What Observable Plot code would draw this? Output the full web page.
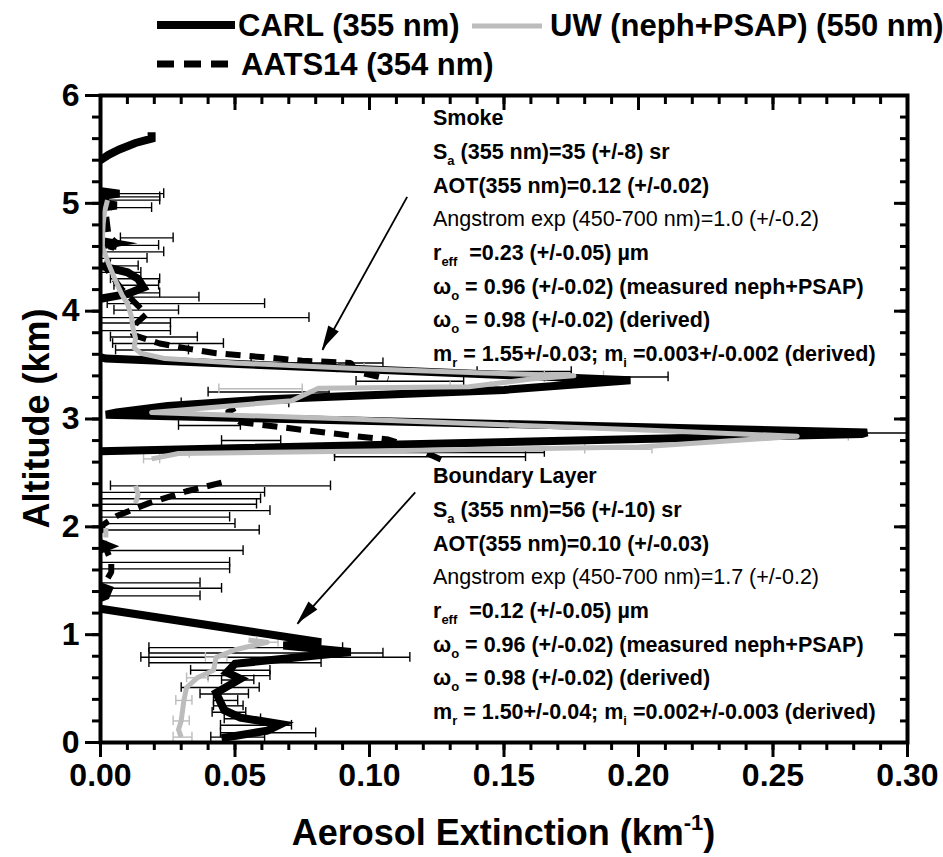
<!DOCTYPE html>
<html><head><meta charset="utf-8">
<script src="https://cdn.jsdelivr.net/npm/d3@7"></script>
<script src="https://cdn.jsdelivr.net/npm/@observablehq/plot@0.6"></script>
<style>
body{margin:0;background:#fff;}
#chart{width:943px;height:857px;}
</style></head><body><div id="chart"></div>
<script>
// ---------- data (altitude km, extinction km^-1); null breaks a line ----------
const carlAlt = [5.66,5.60,5.56,5.50,5.45,5.40,5.35,5.20,5.12,5.09,5.06,5.00,4.98,4.95,4.80,4.66,4.63,4.60,4.48,4.42,4.36,4.30,4.22,4.16,4.12,4.08,3.80,3.60,3.56,3.36,3.27,3.22,3.18,3.12,3.06,3.04,2.875,2.86,2.70,2.65,2.30,2.00,1.86,1.82,1.78,1.50,1.42,1.36,1.30,1.24,0.93,0.90,0.84,0.73,0.65,0.59,0.46,0.30,0.23,0.17,0.11,0.04];
const carlExt = [0.019,0.019,0.013,0.007,0.003,0.000,-0.006,-0.008,-0.002,0.007,-0.002,0.001,0.006,-0.003,-0.008,-0.002,0.005,-0.002,-0.006,0.000,0.010,0.014,0.016,0.010,0.001,-0.006,-0.010,-0.004,0.002,0.197,0.150,0.100,0.060,0.025,0.006,0.002,0.285,0.283,0.000,-0.008,-0.010,-0.006,-0.001,0.003,-0.001,-0.006,0.003,0.002,-0.004,0.000,0.082,0.068,0.093,0.050,0.047,0.052,0.043,0.046,0.052,0.067,0.062,0.045];

const uwAlt = [5.03,4.92,4.81,4.70,4.60,4.44,4.35,4.26,4.15,4.07,3.95,3.85,3.75,3.66,3.61,3.56,3.52,3.47,3.43,3.40,3.37,3.30,3.285,3.17,3.06,3.00,2.90,2.84,2.74,2.70,2.68,2.63,null,2.38,2.30,2.22,null,1.99,1.90,null,0.95,0.93,0.86,0.79,0.67,0.60,0.51,0.39,0.20,0.12,0.05];
const uwExt = [0.0026,0.0015,0.001,0.0008,0.0007,0.003,0.0045,0.006,0.008,0.010,0.0115,0.012,0.013,0.0125,0.015,0.024,0.050,0.093,0.140,0.176,0.160,0.137,0.081,0.071,0.019,0.093,0.200,0.259,0.200,0.093,0.029,0.019,null,0.013,0.014,0.013,null,0.002,0.002,null,0.055,0.062,0.050,0.043,0.042,0.036,0.032,0.031,0.030,0.029,0.030];

const aatsAlt = [5.05,4.98,4.90,4.70,4.63,4.58,4.40,4.20,4.05,3.97,3.88,3.78,3.70,3.65,3.61,3.57,3.54,3.52,3.44,3.37,null,3.10,3.06,2.97,2.90,2.84,2.81,2.72,2.62,null,2.41,2.33,2.22,2.10,2.02,1.95,1.80,1.68,1.58,1.45,1.38];
const aatsExt = [0.001,0.004,0.002,0.003,0.006,0.004,0.002,0.008,0.014,0.017,0.013,0.012,0.022,0.033,0.043,0.062,0.075,0.093,0.095,0.107,null,0.050,0.047,0.052,0.075,0.095,0.107,0.118,0.127,null,0.045,0.032,0.018,0.006,0.001,0.000,0.002,0.004,0.004,0.001,0.000];

// CARL error bars
const errAlt = [5.09,5.06,5.03,4.96,4.68,4.61,4.55,4.49,4.42,4.36,4.30,4.24,4.17,4.13,4.07,4.01,3.94,3.89,3.82,3.76,3.70,3.64,3.52,3.44,3.39,3.35,3.25,3.15,2.94,2.87,2.80,2.69,2.65,2.38,2.32,2.26,2.21,2.15,2.09,2.03,1.97,1.78,1.67,1.61,1.48,1.43,1.36,0.88,0.83,0.79,0.74,0.67,0.62,0.58,0.51,0.45,0.39,0.34,0.28,0.22,0.16,0.09,0.05];
const errLo  = [0,0,0,0,0.0074,0.0056,0,0,0,0,0.0037,0.005,0.0085,0,0.0025,0.005,0,0,0,0.0037,0.0045,0.0056,0.056,0.140,0.165,0.095,0.040,0.030,0.029,0.250,0.045,0.087,0.087,0.0037,0,0,0,0,0,0,0,0,0,0,0,0,0,0.018,0.018,0.015,0.018,0.0335,0.040,0.045,0.030,0.037,0.042,0.042,0.0415,0.046,0.0446,0.0446,0.041];
const errHi  = [0.0235,0.022,0.022,0.019,0.027,0.0216,0.0235,0.0173,0.014,0.015,0.022,0.0216,0.022,0.0366,0.061,0.029,0.0775,0.026,0.026,0.036,0.0457,0.0327,0.105,0.175,0.211,0.135,0.085,0.070,0.052,0.300,0.067,0.165,0.158,0.0855,0.061,0.0595,0.058,0.063,0.048,0.050,0.059,0.053,0.048,0.048,0.037,0.045,0.037,0.090,0.105,0.115,0.082,0.063,0.063,0.057,0.059,0.055,0.051,0.053,0.054,0.0595,0.071,0.080,0.061];

// UW error bars
const uwErrAlt = [3.47,3.40,3.30,3.28,3.06,2.84,2.72,2.68,2.63,0.93,0.79,0.60,0.39,0.20,0.05];
const uwErrLo  = [0.088,0.165,0.130,0.044,0.015,0.240,0.180,0.025,0.016,0.058,0.039,0.032,0.028,0.027,0.027];
const uwErrHi  = [0.098,0.187,0.145,0.075,0.023,0.278,0.205,0.033,0.022,0.066,0.047,0.040,0.034,0.033,0.034];

// annotation arrows [x1,y1] -> [x2,y2] in data units
const arrowX1 = [0.114, 0.117], arrowY1 = [5.06, 2.32];
const arrowX2 = [0.0825, 0.0732], arrowY2 = [3.64, 1.10];

const xMajor = [0, 0.05, 0.10, 0.15, 0.20, 0.25, 0.30];
const xMinor = d3.range(0, 31).map(i => i / 100);
const yMajor = [0, 1, 2, 3, 4, 5, 6];
const yMinor = d3.range(0, 31).map(i => i / 5);

const smokeLines = [
  [["Smoke"]],
  [["S"],["a","sub"],[" (355 nm)=35 (+/-8) sr"]],
  [["AOT(355 nm)=0.12 (+/-0.02)"]],
  [["Angstrom exp (450-700 nm)=1.0 (+/-0.2)","normal"]],
  [["r"],["eff","sub"],["  =0.23 (+/-0.05) \u00b5m"]],
  [["\u03c9"],["o","sub"],[" = 0.96 (+/-0.02) (measured neph+PSAP)"]],
  [["\u03c9"],["o","sub"],[" = 0.98 (+/-0.02) (derived)"]],
  [["m"],["r","sub"],[" = 1.55+/-0.03; m"],["i","sub"],[" =0.003+/-0.002 (derived)"]]
];
const blLines = [
  [["Boundary Layer"]],
  [["S"],["a","sub"],[" (355 nm)=56 (+/-10) sr"]],
  [["AOT(355 nm)=0.10 (+/-0.03)"]],
  [["Angstrom exp (450-700 nm)=1.7 (+/-0.2)","normal"]],
  [["r"],["eff","sub"],["  =0.12 (+/-0.05) \u00b5m"]],
  [["\u03c9"],["o","sub"],[" = 0.96 (+/-0.02) (measured neph+PSAP)"]],
  [["\u03c9"],["o","sub"],[" = 0.98 (+/-0.02) (derived)"]],
  [["m"],["r","sub"],[" = 1.50+/-0.04; m"],["i","sub"],[" =0.002+/-0.003 (derived)"]]
];

// ---------- tables ----------
const mk = (alt, ext) => alt.map((a, i) => ({y: a, x: ext[i]}));
const carl = mk(carlAlt, carlExt), uw = mk(uwAlt, uwExt), aats = mk(aatsAlt, aatsExt);
const err = errAlt.map((a, i) => ({y: a, lo: errLo[i], hi: errHi[i]}));
const uwErr = uwErrAlt.map((a, i) => ({y: a, lo: uwErrLo[i], hi: uwErrHi[i]}));
const caps = err.flatMap(d => [{y: d.y, x: d.lo}, {y: d.y, x: d.hi}]);
const uwCaps = uwErr.flatMap(d => [{y: d.y, x: d.lo}, {y: d.y, x: d.hi}]);
const arrows = arrowX1.map((v, i) => ({x1: v, y1: arrowY1[i], x2: arrowX2[i], y2: arrowY2[i]}));
const capH = 0.045;
const GRAY = "#bcbcbc";
const FONT = "'Liberation Sans', Arial, Helvetica, sans-serif";

const plot = Plot.plot({
  width: 943, height: 857,
  marginLeft: 100, marginRight: 36, marginTop: 95, marginBottom: 115,
  x: {domain: [0, 0.30]},
  y: {domain: [0, 6]},
  style: {fontFamily: FONT, fontSize: "32px", fontWeight: "bold", color: "black", background: "white"},
  marks: [
    // error bars
    Plot.link(err, {x1: "lo", x2: "hi", y1: "y", y2: "y", stroke: "black", strokeWidth: 1.4, clip: true}),
    Plot.ruleX(caps, {x: "x", y1: d => d.y - capH, y2: d => d.y + capH, stroke: "black", strokeWidth: 1.4, clip: true}),
    Plot.link(uwErr, {x1: "lo", x2: "hi", y1: "y", y2: "y", stroke: GRAY, strokeWidth: 1.4, clip: true}),
    Plot.ruleX(uwCaps, {x: "x", y1: d => d.y - capH, y2: d => d.y + capH, stroke: GRAY, strokeWidth: 1.4, clip: true}),
    // profiles
    Plot.line(aats, {x: "x", y: "y", stroke: "black", strokeWidth: 6, strokeDasharray: "15 9", strokeLinecap: "butt", strokeLinejoin: "miter", clip: true}),
    Plot.line(carl, {x: "x", y: "y", stroke: "black", strokeWidth: 8, strokeLinecap: "butt", strokeLinejoin: "miter", strokeMiterlimit: 6, clip: true}),
    Plot.line(uw, {x: "x", y: "y", stroke: GRAY, strokeWidth: 5, strokeLinejoin: "round", strokeLinecap: "butt", clip: true}),
    // arrows
    Plot.link(arrows, {x1: "x1", y1: "y1", x2: "x2", y2: "y2", stroke: "black", strokeWidth: 1.8}),
    // axes
    Plot.axisX({ticks: xMinor, tickSize: 8, strokeWidth: 3, tickFormat: () => "", label: null}),
    Plot.axisX({ticks: xMajor, tickSize: 15, strokeWidth: 3, tickPadding: 6, tickFormat: d3.format(".2f"), label: null}),
    Plot.axisX({anchor: "top", ticks: xMinor, tickSize: -8, strokeWidth: 3, tickFormat: () => "", label: null}),
    Plot.axisX({anchor: "top", ticks: xMajor, tickSize: -14, strokeWidth: 3, tickFormat: () => "", label: null}),
    Plot.axisY({ticks: yMinor, tickSize: 8, strokeWidth: 3, tickFormat: () => "", label: null}),
    Plot.axisY({ticks: yMajor, tickSize: 15, strokeWidth: 3, tickPadding: 6, tickFormat: d3.format("d"), label: null}),
    Plot.axisY({anchor: "right", ticks: yMinor, tickSize: -8, strokeWidth: 3, tickFormat: () => "", label: null}),
    Plot.axisY({anchor: "right", ticks: yMajor, tickSize: -14, strokeWidth: 3, tickFormat: () => "", label: null}),
    Plot.frame({stroke: "black", strokeWidth: 4})
  ]
});

document.getElementById("chart").appendChild(plot);
const svg = d3.select(plot);
const xs = plot.scale("x"), ys = plot.scale("y");

// arrowheads (filled)
arrows.forEach(a => {
  const x1 = xs.apply(a.x1), y1 = ys.apply(a.y1), x2 = xs.apply(a.x2), y2 = ys.apply(a.y2);
  const ang = Math.atan2(y2 - y1, x2 - x1), L = 24, W = 6;
  const bx = x2 - L * Math.cos(ang), by = y2 - L * Math.sin(ang);
  const px = -Math.sin(ang) * W, py = Math.cos(ang) * W;
  svg.append("polygon").attr("points", `${x2},${y2} ${bx + px},${by + py} ${bx - px},${by - py}`).attr("fill", "black");
});

// annotation blocks
function block(lines, xData, yData, dy) {
  const x0 = xs.apply(xData), y0 = ys.apply(yData);
  const g = svg.append("g").attr("font-family", FONT).attr("font-size", 21.5).attr("fill", "black").attr("text-anchor", "start");
  lines.forEach((parts, i) => {
    const t = g.append("text").attr("x", x0).attr("y", y0 + i * dy).attr("font-weight", "bold");
    let shifted = false;
    parts.forEach(p => {
      const s = t.append("tspan").text(p[0]);
      if (p[1] === "normal") t.attr("font-weight", "normal").attr("font-size", 21.5);
      if (p[1] === "sub") { s.attr("font-size", 13).attr("dy", 6); shifted = true; }
      else if (shifted) { s.attr("dy", -6); shifted = false; }
    });
  });
}
block(smokeLines, 0.1238, 5.72, 33.7);
block(blLines, 0.1238, 2.40, 33.7);

// axis titles
const xt = svg.append("text").attr("x", (xs.apply(0) + xs.apply(0.3)) / 2).attr("y", 845)
  .attr("text-anchor", "middle").attr("font-family", FONT).attr("font-weight", "bold").attr("font-size", 36);
xt.append("tspan").text("Aerosol Extinction (km");
xt.append("tspan").text("-1").attr("font-size", 22).attr("dy", -15);
xt.append("tspan").text(")").attr("dy", 15);
svg.append("text").attr("transform", `translate(49,${(ys.apply(0) + ys.apply(6)) / 2}) rotate(-90)`)
  .attr("text-anchor", "middle").attr("font-family", FONT).attr("font-weight", "bold").attr("font-size", 36)
  .text("Altitude (km)");

// legend
const lg = svg.append("g").attr("font-family", FONT).attr("font-weight", "bold").attr("font-size", 31).attr("text-anchor", "start");
lg.append("line").attr("x1", 157).attr("x2", 235).attr("y1", 25).attr("y2", 25).attr("stroke", "black").attr("stroke-width", 8);
lg.append("text").attr("x", 238).attr("y", 36).text("CARL (355 nm)");
lg.append("line").attr("x1", 472).attr("x2", 542).attr("y1", 26).attr("y2", 26).attr("stroke", GRAY).attr("stroke-width", 5);
lg.append("text").attr("x", 550).attr("y", 36).text("UW (neph+PSAP) (550 nm)");
lg.append("line").attr("x1", 157).attr("x2", 232).attr("y1", 64).attr("y2", 64).attr("stroke", "black").attr("stroke-width", 7).attr("stroke-dasharray", "17 10");
lg.append("text").attr("x", 241).attr("y", 75).text("AATS14 (354 nm)");
</script>
</body></html>
